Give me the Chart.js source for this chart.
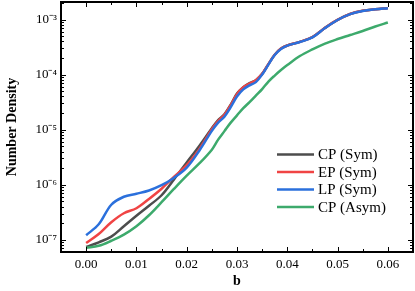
<!DOCTYPE html>
<html>
<head>
<meta charset="utf-8">
<script src="https://cdn.jsdelivr.net/npm/chart.js@4"></script>
<style>
  body { margin: 0; background: #fff; }
</style>
</head>
<body>
<canvas id="grafica" width="415" height="291"></canvas>
<script>
// valores
const valoresB = [0, 0.0025, 0.005, 0.0075, 0.01, 0.0125, 0.015, 0.0175, 0.02, 0.0225, 0.025, 0.02625,
  0.0275, 0.02875, 0.03, 0.03125, 0.0325, 0.03375, 0.035, 0.03625, 0.0375, 0.03875, 0.04, 0.0425,
  0.045, 0.0475, 0.05, 0.0525, 0.055, 0.0575, 0.06];

const cpSym = [7.39e-8, 9.0e-8, 1.14e-7, 1.76e-7, 2.73e-7, 4.15e-7, 6.44e-7, 1.26e-6, 2.53e-6, 5.07e-6,
  1.06e-5, 1.49e-5, 1.91e-5, 2.85e-5, 4.52e-5, 5.9e-5, 7.0e-5, 7.9e-5, 1.03e-4, 1.55e-4, 2.3e-4, 2.97e-4,
  3.38e-4, 3.93e-4, 4.78e-4, 7.05e-4, 9.85e-4, 1.26e-3, 1.44e-3, 1.54e-3, 1.61e-3];
const epSym = [8.75e-8, 1.27e-7, 2.08e-7, 3.03e-7, 3.74e-7, 5.52e-7, 8.46e-7, 1.40e-6, 2.26e-6, 4.42e-6,
  1.02e-5, 1.43e-5, 1.87e-5, 2.79e-5, 4.42e-5, 5.9e-5, 6.86e-5, 7.9e-5, 1.03e-4, 1.55e-4, 2.3e-4, 2.97e-4,
  3.38e-4, 3.93e-4, 4.78e-4, 7.05e-4, 9.85e-4, 1.26e-3, 1.44e-3, 1.54e-3, 1.61e-3];
const lpSym = [1.21e-7, 1.91e-7, 4.33e-7, 6.05e-7, 6.86e-7, 7.87e-7, 9.79e-7, 1.34e-6, 2.04e-6, 4.15e-6,
  9.5e-6, 1.34e-5, 1.72e-5, 2.56e-5, 4.0e-5, 5.38e-5, 6.37e-5, 7.31e-5, 1.0e-4, 1.52e-4, 2.26e-4, 2.91e-4,
  3.35e-4, 3.90e-4, 4.75e-4, 7.0e-4, 9.8e-4, 1.25e-3, 1.43e-3, 1.53e-3, 1.60e-3];
const cpAsym = [7.16e-8, 7.78e-8, 9.6e-8, 1.24e-7, 1.76e-7, 2.79e-7, 4.81e-7, 8.46e-7, 1.46e-6, 2.43e-6,
  4.33e-6, 6.58e-6, 9.4e-6, 1.34e-5, 1.82e-5, 2.46e-5, 3.16e-5, 4.15e-5, 5.45e-5, 7.46e-5, 9.6e-5, 1.21e-4,
  1.49e-4, 2.17e-4, 2.87e-4, 3.66e-4, 4.42e-4, 5.22e-4, 6.18e-4, 7.46e-4, 8.82e-4];

const etiquetas = ["CP (Sym)", "EP (Sym)", "LP (Sym)", "CP (Asym)"];
const ticksX = [0, 0.01, 0.02, 0.03, 0.04, 0.05, 0.06];
const ticksY = [1e-7, 1e-6, 1e-5, 1e-4, 1e-3];

const colores = ["#4d4d4d", "#f04444", "#2b70dc", "#3daa6c"];
const fuente = "'Liberation Serif', 'Times New Roman', serif";
const sup = { "-": "\u207B", "0": "\u2070", "1": "\u00B9", "2": "\u00B2", "3": "\u00B3", "4": "\u2074",
  "5": "\u2075", "6": "\u2076", "7": "\u2077", "8": "\u2078", "9": "\u2079" };

function puntos(serie) {
  return valoresB.map((b, i) => ({ x: b, y: serie[i] }));
}

// marco y marcas hacia adentro en los cuatro lados
const marco = {
  id: "marco",
  afterDraw(chart) {
    const { ctx, chartArea: a, scales } = chart;
    const x = scales.x, y = scales.y;
    ctx.save();
    ctx.strokeStyle = "#000";
    ctx.lineWidth = 1;
    ctx.beginPath();
    for (let i = -1; i <= 13; i++) {
      const px = Math.round(x.getPixelForValue(i * 0.005)) + 0.5;
      if (px < a.left + 1 || px > a.right - 1) continue;
      const l = i % 2 === 0 ? 5 : 3;
      ctx.moveTo(px, a.bottom); ctx.lineTo(px, a.bottom - l);
      ctx.moveTo(px, a.top); ctx.lineTo(px, a.top + l);
    }
    for (let e = -8; e <= -2; e++) {
      for (let m = 1; m <= 9; m++) {
        const v = m * Math.pow(10, e);
        if (v < y.min || v > y.max) continue;
        const py = Math.round(y.getPixelForValue(v)) + 0.5;
        const l = m === 1 ? 5 : 3;
        ctx.moveTo(a.left, py); ctx.lineTo(a.left + l, py);
        ctx.moveTo(a.right, py); ctx.lineTo(a.right - l, py);
      }
    }
    ctx.stroke();
    ctx.lineWidth = 2;
    ctx.strokeRect(a.left, a.top, a.right - a.left, a.bottom - a.top);

    // leyenda
    ctx.font = "15px " + fuente;
    ctx.textBaseline = "middle";
    ctx.fillStyle = "#000";
    chart.data.datasets.forEach((ds, i) => {
      const yy = 154.5 + i * 17.5;
      ctx.strokeStyle = ds.borderColor;
      ctx.lineWidth = 2.5;
      ctx.beginPath();
      ctx.moveTo(277, yy); ctx.lineTo(314, yy);
      ctx.stroke();
      ctx.fillText(ds.label, 318, yy + 1);
    });
    ctx.restore();
  }
};

const ctx = document.getElementById("grafica").getContext("2d");
const myChart = new Chart(ctx, {
  type: "line",
  data: {
    datasets: [
      { label: etiquetas[0], data: puntos(cpSym), borderColor: colores[0], order: 3 },
      { label: etiquetas[1], data: puntos(epSym), borderColor: colores[1], order: 2 },
      { label: etiquetas[2], data: puntos(lpSym), borderColor: colores[2], order: 1 },
      { label: etiquetas[3], data: puntos(cpAsym), borderColor: colores[3], order: 0 },
    ],
  },
  options: {
    responsive: false,
    animation: false,
    layout: { padding: { top: 2, right: 2, left: 0, bottom: 0 } },
    elements: {
      point: { radius: 0 },
      line: { borderWidth: 2.5, tension: 0.35, fill: false },
    },
    plugins: {
      legend: { display: false },
      tooltip: { enabled: false },
    },
    scales: {
      x: {
        type: "linear",
        min: -0.005,
        max: 0.065,
        grid: { display: false, drawTicks: false },
        border: { display: false },
        afterBuildTicks: (s) => { s.ticks = ticksX.map((v) => ({ value: v })); },
        afterFit: (s) => { s.height = 39; s.paddingLeft = 0; s.paddingRight = 0; },
        ticks: {
          padding: 5,
          color: "#000",
          maxRotation: 0,
          font: { family: fuente, size: 13 },
          callback: (v) => Number(v).toFixed(2),
        },
        title: {
          display: true,
          text: "b",
          color: "#000",
          padding: { top: 0, bottom: 1 },
          font: { family: fuente, size: 14, weight: "bold" },
        },
      },
      y: {
        type: "logarithmic",
        min: 6.05e-8,
        max: 2.08e-3,
        grid: { display: false, drawTicks: false },
        border: { display: false },
        afterBuildTicks: (s) => { s.ticks = ticksY.map((v) => ({ value: v })); },
        afterFit: (s) => { s.width = 61; s.paddingTop = 0; s.paddingBottom = 0; },
        ticks: {
          padding: 4,
          color: "#000",
          font: { family: fuente, size: 13 },
          callback: (v) => {
            const e = String(Math.round(Math.log10(v)));
            return "10" + e.split("").map((c) => sup[c]).join("");
          },
        },
        title: {
          display: true,
          text: "Number Density",
          color: "#000",
          padding: { top: 4, bottom: 0 },
          font: { family: fuente, size: 14, weight: "bold" },
        },
      },
    },
  },
  plugins: [marco],
});
</script>
</body>
</html>
